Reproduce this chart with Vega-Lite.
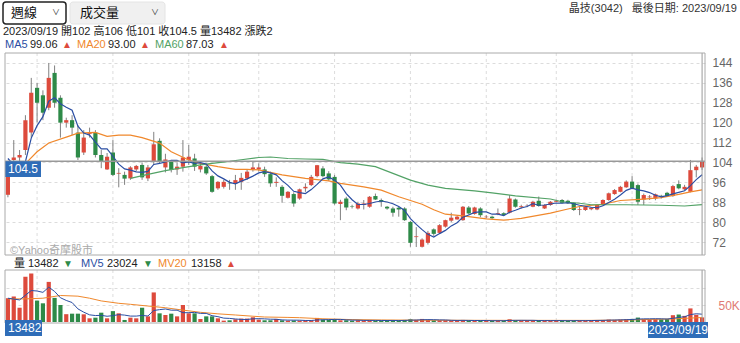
{
"$schema":"https://vega.github.io/schema/vega-lite/v6.json",
"width":700,"height":270,
"autosize":{"type":"none"},
"padding":{"left":5,"top":53,"right":35,"bottom":20},
"background":"white",
"config":{"view":{"stroke":null},"font":"Liberation Sans, Noto Sans CJK TC, sans-serif","axis":{"labelFont":"Liberation Sans, Noto Sans CJK TC, sans-serif"}},
"datasets":{
"one":[{}],
"q":[{"d":"2021-06-28"},{"d":"2021-09-27"},{"d":"2021-12-27"},{"d":"2022-03-28"},{"d":"2022-06-27"},{"d":"2022-09-26"},{"d":"2022-12-26"},{"d":"2023-03-27"},{"d":"2023-06-26"}],
"k":[
{"d":"2021-05-24","o":91,"h":104,"l":90,"c":103,"v":70,"m5":105.6,"mv5":70,"mv20":68},
{"d":"2021-05-31","o":105,"h":113,"l":104,"c":106,"v":75,"m5":103},
{"d":"2021-06-07","o":106,"h":109,"l":104,"c":107,"v":42,"m5":101.5,"mv5":65},
{"d":"2021-06-14","o":109,"h":123,"l":107,"c":121,"v":133,"m5":104.3,"m20":103.5,"mv20":68},
{"d":"2021-06-21","o":116,"h":138,"l":114,"c":132,"v":143,"m5":113.8,"mv5":92.6},
{"d":"2021-06-28","o":134,"h":136,"l":120,"c":128,"v":63,"m5":118.8,"m20":108.3,"mv5":91.2},
{"d":"2021-07-05","o":131,"h":133,"l":121,"c":124,"v":55,"m5":122.4,"mv5":87.2,"mv20":70},
{"d":"2021-07-12","o":126,"h":144,"l":125,"c":138,"v":118,"m5":128.6,"m20":111.8,"mv5":102.4},
{"d":"2021-07-19","o":140,"h":143,"l":126,"c":128,"v":71,"m5":130,"mv5":90},
{"d":"2021-07-26","o":130,"h":131,"l":114,"c":120,"v":50,"m5":127.6,"mv5":71.4,"mv20":78},
{"d":"2021-08-02","o":120,"h":122,"l":118,"c":121,"v":23,"m5":126.2,"m20":114.2,"mv5":63.4},
{"d":"2021-08-09","o":121,"h":123,"l":115,"c":118,"v":24.5,"m5":125,"mv5":57.3},
{"d":"2021-08-16","o":116,"h":119,"l":105,"c":106,"v":24.5,"m5":118.6,"m20":115.8,"mv5":38.6,"mv20":76},
{"d":"2021-08-23","o":108,"h":117,"l":107,"c":114,"v":22.6,"m5":115.8,"mv5":28.9},
{"d":"2021-08-30","o":115.5,"h":118,"l":114,"c":116,"v":10.8,"m5":115,"mv5":21.1,"mv20":70},
{"d":"2021-09-06","o":116,"h":117,"l":106,"c":107,"v":12.7,"m5":112.2,"m20":116.1,"mv5":19},
{"d":"2021-09-13","o":107,"h":109,"l":101.7,"c":104.3,"v":27.4,"m5":109.5,"mv5":19.6,"mv20":62},
{"d":"2021-09-20","o":101.2,"h":107.8,"l":101,"c":106.3,"v":10.8,"m5":109.5,"m20":114.5,"mv5":16.9},
{"d":"2021-09-27","o":108,"h":113,"l":98.5,"c":99,"v":32,"m5":106.5,"mv5":18.7},
{"d":"2021-10-04","o":99.5,"h":101.7,"l":94,"c":99.8,"v":25.5,"m5":103.3,"m20":115,"mv5":21.7,"mv20":55},
{"d":"2021-10-11","o":99,"h":100.3,"l":95,"c":97.5,"v":6,"m5":101.4,"mv5":20.3},
{"d":"2021-10-18","o":97.6,"h":102.5,"l":97,"c":102,"v":12.7,"m5":100.9,"m20":115,"m60":97.6,"mv5":17.4,"mv20":52},
{"d":"2021-10-25","o":101.2,"h":103,"l":100.5,"c":102.6,"v":10.8,"m5":100.2,"mv5":17.4},
{"d":"2021-11-01","o":103,"h":104,"l":97,"c":98,"v":42,"m5":100,"m20":114,"mv5":19.4},
{"d":"2021-11-08","o":97.6,"h":103,"l":96.5,"c":102,"v":16.6,"m5":100.4,"m60":99.2,"mv5":17.6,"mv20":47},
{"d":"2021-11-15","o":104.6,"h":116.3,"l":103,"c":111.3,"v":87,"m5":103.2,"mv5":33.8},
{"d":"2021-11-22","o":112.7,"h":113.7,"l":103.5,"c":104.3,"v":25.5,"m5":103.6,"m20":111.8,"mv5":36.4},
{"d":"2021-11-29","o":102,"h":107.5,"l":100,"c":105.2,"v":20.6,"m5":104.2,"m60":100.7,"mv5":38.3,"mv20":42},
{"d":"2021-12-06","o":104.3,"h":105,"l":100,"c":101,"v":24.5,"m5":104.8,"m20":108.3,"mv5":34.8},
{"d":"2021-12-13","o":101.2,"h":104,"l":99,"c":102.3,"v":16.6,"m5":104.8,"mv5":34.8},
{"d":"2021-12-20","o":102.3,"h":113,"l":100.3,"c":106,"v":50,"m5":103.8,"m60":101.9,"mv5":27.4,"mv20":35},
{"d":"2021-12-27","o":105,"h":111,"l":103,"c":106.3,"v":25.5,"m5":104.2,"m20":105,"mv5":27.4},
{"d":"2022-01-03","o":105.6,"h":107.5,"l":100.6,"c":102.3,"v":25.5,"m5":103.6,"mv5":28.4},
{"d":"2022-01-10","o":101.2,"h":103.5,"l":100,"c":102.6,"v":8.8,"m5":103.9,"m20":103.6,"m60":103,"mv5":25.3,"mv20":28.5},
{"d":"2022-01-17","o":102.3,"h":103,"l":99,"c":99.6,"v":16.6,"m5":103.4,"mv5":25.3},
{"d":"2022-01-24","o":98.5,"h":99,"l":91.8,"c":92.2,"v":16.6,"m5":100.6,"m60":103.6,"mv5":18.6},
{"d":"2022-02-07","o":93.6,"h":96.5,"l":93,"c":96.2,"v":10.8,"m5":98.6,"m20":102.3,"mv5":15.7,"mv20":24},
{"d":"2022-02-14","o":94.2,"h":97,"l":93.5,"c":96.2,"v":4,"m5":97.4,"mv5":11.4},
{"d":"2022-02-21","o":95.8,"h":97,"l":93,"c":95.6,"v":5,"m5":96,"m60":104.4,"mv5":10.6},
{"d":"2022-02-28","o":95.6,"h":99,"l":93,"c":96.9,"v":8,"m5":95.4,"m20":101.2,"mv5":8.9,"mv20":20.6},
{"d":"2022-03-07","o":96.2,"h":99.8,"l":93,"c":97.8,"v":10,"m5":96.5,"m60":105.1,"mv5":7.6},
{"d":"2022-03-14","o":97.6,"h":101,"l":97,"c":100.3,"v":10,"m5":97.4,"m20":101.2,"mv5":7.4},
{"d":"2022-03-21","o":101.2,"h":104.3,"l":100.3,"c":102,"v":14,"m5":98.5,"mv5":9.4,"mv20":17},
{"d":"2022-03-28","o":101.2,"h":103.6,"l":100.3,"c":102,"v":7,"m5":99.8,"m20":101,"m60":106,"mv5":9.8},
{"d":"2022-04-04","o":101.2,"h":102.3,"l":98.2,"c":99.3,"v":5,"m5":100.3,"mv5":9.2,"mv20":14.7},
{"d":"2022-04-11","o":99.3,"h":100.3,"l":94.2,"c":95.6,"v":5,"m5":99.8,"m60":106.2,"mv5":8.2},
{"d":"2022-04-18","o":95.8,"h":98,"l":94.2,"c":96.2,"v":9,"m5":99,"mv5":8},
{"d":"2022-04-25","o":94.2,"h":94.9,"l":87.8,"c":90.6,"v":5,"m5":96.7,"m20":99,"mv5":6.2},
{"d":"2022-05-02","o":89.8,"h":92.5,"l":89.5,"c":92.2,"v":4,"m5":94.8,"m60":105.6,"mv5":5.6,"mv20":13.5},
{"d":"2022-05-09","o":91.3,"h":92,"l":86.2,"c":87.5,"v":4.5,"m5":92.4,"mv5":5.5},
{"d":"2022-05-16","o":89.5,"h":93.5,"l":89,"c":93.2,"v":4,"m5":91.9,"mv5":5.3,"mv20":12.7},
{"d":"2022-05-23","o":93.6,"h":95.6,"l":92.2,"c":94.2,"v":5,"m5":91.5,"m20":97.6,"m60":105.4,"mv5":4.5},
{"d":"2022-05-30","o":94.9,"h":99,"l":94.5,"c":98.2,"v":5,"m5":93.1,"mv5":4.5},
{"d":"2022-06-06","o":98.5,"h":103,"l":98,"c":102.9,"v":12,"m5":95.2,"mv5":6.1},
{"d":"2022-06-13","o":101.6,"h":102.5,"l":98,"c":98.5,"v":7,"m5":97.4,"m60":105.2,"mv5":6.6,"mv20":9.5},
{"d":"2022-06-20","o":99.6,"h":100.5,"l":96.5,"c":97.2,"v":6,"m5":98.2,"m20":96.6,"mv5":7},
{"d":"2022-06-27","o":98.2,"h":99,"l":87,"c":87.5,"v":8,"m5":96.9,"mv5":7.6},
{"d":"2022-07-04","o":87.3,"h":89,"l":80.8,"c":88.2,"v":5,"m5":94.9,"m20":95.6,"m60":103.9,"mv5":7.6},
{"d":"2022-07-11","o":89.5,"h":90.2,"l":84.8,"c":85.9,"v":5,"m5":91.5,"mv5":6.2},
{"d":"2022-07-18","o":86.4,"h":87,"l":85.5,"c":86.2,"v":4,"m5":89,"mv5":5.6,"mv20":7},
{"d":"2022-07-25","o":85.5,"h":88.2,"l":85.1,"c":87.5,"v":5,"m5":87.1,"m60":103.3,"mv5":5.4},
{"d":"2022-08-01","o":86.9,"h":88.9,"l":85.1,"c":87.5,"v":4.5,"m5":87.1,"m20":94.2,"mv5":4.7},
{"d":"2022-08-08","o":86.2,"h":90.5,"l":85.8,"c":90.2,"v":5,"m5":87.5,"mv5":4.7},
{"d":"2022-08-15","o":90.5,"h":91.5,"l":88.9,"c":89.1,"v":4,"m5":88.1,"m60":102.3,"mv5":4.6},
{"d":"2022-08-22","o":88.9,"h":89.5,"l":86.2,"c":88.2,"v":4,"m5":88.5,"m20":92.9,"mv5":4.5,"mv20":6},
{"d":"2022-08-29","o":86.2,"h":86.5,"l":85,"c":85.5,"v":4.5,"m5":88.1,"mv5":4.4},
{"d":"2022-09-05","o":85.5,"h":86.2,"l":82.2,"c":83.8,"v":5,"m5":87.4,"m60":99.6,"mv5":4.5},
{"d":"2022-09-12","o":85.8,"h":86.2,"l":82.2,"c":85.1,"v":4,"m5":86.3,"m20":90.2,"mv5":4.3},
{"d":"2022-09-19","o":85.5,"h":86,"l":80.5,"c":80.8,"v":6,"m5":84.7,"mv5":4.7},
{"d":"2022-09-26","o":80.1,"h":80.5,"l":70.1,"c":71.7,"v":8,"m5":81.4,"m60":96.9,"mv5":5.4,"mv20":5.5},
{"d":"2022-10-03","o":74,"h":78,"l":70,"c":74.3,"v":6,"m5":79.1,"mv5":5.8},
{"d":"2022-10-10","o":70.1,"h":73.5,"l":69.8,"c":73,"v":9,"m5":77,"m20":87.2,"mv5":6.6},
{"d":"2022-10-17","o":71.7,"h":76.5,"l":71,"c":75.7,"v":6,"m5":75.1,"m60":94.9,"mv5":7},
{"d":"2022-10-24","o":77.1,"h":77.5,"l":74.5,"c":75.3,"v":5,"m5":74,"m20":85,"mv5":6.8},
{"d":"2022-10-31","o":75.7,"h":79.2,"l":75.3,"c":78.8,"v":5,"m5":75.4,"mv5":6.2},
{"d":"2022-11-07","o":78.2,"h":81,"l":77.8,"c":80.8,"v":5,"m5":76.7,"m20":83.2,"m60":93.6,"mv5":6},
{"d":"2022-11-14","o":80.6,"h":83.8,"l":80,"c":81.8,"v":4,"m5":78.5,"mv5":5},
{"d":"2022-11-21","o":81.1,"h":82.5,"l":81,"c":82.2,"v":4,"m5":79.8,"mv5":4.6},
{"d":"2022-11-28","o":80.8,"h":86.5,"l":80.5,"c":86.2,"v":6,"m5":82,"m20":82.5,"mv5":4.8},
{"d":"2022-12-05","o":85.9,"h":86.5,"l":83,"c":83.5,"v":4,"m5":82.9,"mv5":4.6,"mv20":5},
{"d":"2022-12-12","o":83.3,"h":86.2,"l":83,"c":85.9,"v":4,"m5":83.9,"m60":92.6,"mv5":4.4},
{"d":"2022-12-19","o":85.5,"h":86,"l":82,"c":82.8,"v":4,"m5":84.1,"mv5":4.4},
{"d":"2022-12-26","o":82,"h":82.8,"l":81.5,"c":82.2,"v":3.5,"m5":84.1,"m20":81.3,"mv5":4.3},
{"d":"2023-01-02","o":82.2,"h":82.6,"l":81.3,"c":81.6,"v":3.5,"m5":83.2,"m60":91.8,"mv5":3.8},
{"d":"2023-01-09","o":83.3,"h":85.5,"l":82.8,"c":83.6,"v":4,"m5":83.2,"mv5":3.8},
{"d":"2023-01-16","o":83.6,"h":84,"l":82.5,"c":82.9,"v":4,"m5":82.6,"m20":80.8,"mv5":3.8},
{"d":"2023-01-30","o":83.8,"h":90.9,"l":83.5,"c":89.5,"v":8,"m5":84,"mv5":4.6},
{"d":"2023-02-06","o":89.1,"h":89.5,"l":85.8,"c":86.2,"v":5,"m5":84.8,"m60":90.6,"mv5":4.9},
{"d":"2023-02-13","o":86,"h":87,"l":85.5,"c":86.4,"v":4,"m5":85.7,"m20":81.5,"mv5":5},
{"d":"2023-02-20","o":86.5,"h":87.2,"l":86,"c":86.6,"v":3.5,"m5":86.3,"mv5":4.9,"mv20":4.8},
{"d":"2023-02-27","o":86.2,"h":88.6,"l":86,"c":88.2,"v":4,"m5":87.4,"mv5":4.9},
{"d":"2023-03-06","o":88.6,"h":90.3,"l":86.2,"c":86.5,"v":5,"m5":86.8,"mv5":4.3},
{"d":"2023-03-13","o":85.5,"h":87.2,"l":85.3,"c":86.9,"v":4,"m5":86.9,"mv5":4.1},
{"d":"2023-03-20","o":86.9,"h":88.5,"l":86.6,"c":88.2,"v":4,"m5":87.3,"m20":83.6,"m60":89.3,"mv5":4.1},
{"d":"2023-03-27","o":88.2,"h":89,"l":88,"c":88.6,"v":3.5,"m5":87.7,"mv5":4.1},
{"d":"2023-04-03","o":88.9,"h":89.3,"l":87.5,"c":87.8,"v":4,"m5":87.6,"m60":88.2,"mv5":4.1},
{"d":"2023-04-10","o":88.6,"h":89,"l":87.3,"c":87.6,"v":3.5,"m5":87.8,"m20":85.3,"mv5":3.8},
{"d":"2023-04-17","o":87.8,"h":88,"l":84.5,"c":84.9,"v":5,"m5":87.4,"mv5":4},
{"d":"2023-04-24","o":85,"h":86.2,"l":82.8,"c":85.3,"v":4,"m5":86.8,"m20":86.3,"m60":87.6,"mv5":4},
{"d":"2023-05-01","o":84.9,"h":86.5,"l":84.5,"c":86.2,"v":4,"m5":86.4,"mv5":4},
{"d":"2023-05-08","o":85.2,"h":86,"l":84.8,"c":85.8,"v":5,"m5":86,"m60":87,"mv5":4.3,"mv20":4.8},
{"d":"2023-05-15","o":85.1,"h":87.2,"l":84.8,"c":86.9,"v":5,"m5":85.8,"mv5":4.6},
{"d":"2023-05-22","o":86.9,"h":89.2,"l":86.6,"c":88.9,"v":6,"m5":86.6,"m20":87.2,"mv5":4.8},
{"d":"2023-05-29","o":88.9,"h":91.9,"l":88.6,"c":91.6,"v":7,"m5":87.9,"mv5":5.4},
{"d":"2023-06-05","o":91.3,"h":93.3,"l":91,"c":92.9,"v":6,"m5":89.2,"mv5":5.8},
{"d":"2023-06-12","o":92.2,"h":94.6,"l":92,"c":94.2,"v":7,"m5":90.9,"m20":88.7,"mv5":6.2},
{"d":"2023-06-19","o":94,"h":96.8,"l":93.8,"c":96.3,"v":8,"m5":92.8,"m60":87,"mv5":6.8,"mv20":5.8},
{"d":"2023-06-26","o":96.3,"h":98.5,"l":93.2,"c":93.6,"v":9,"m5":93.7,"mv5":7.4},
{"d":"2023-07-03","o":94.9,"h":95.5,"l":86.9,"c":88.2,"v":13,"m5":93,"mv5":8.6},
{"d":"2023-07-10","o":89.1,"h":91.5,"l":86.9,"c":90.9,"v":9,"m5":92.6,"m20":89.3,"mv5":9.2},
{"d":"2023-07-17","o":90,"h":90.9,"l":88.9,"c":90.3,"v":8,"m5":91.9,"mv5":9.4,"mv20":7.5},
{"d":"2023-07-24","o":89.5,"h":91.5,"l":88.8,"c":91.2,"v":9,"m5":90.8,"mv5":9.6},
{"d":"2023-07-31","o":90.6,"h":91,"l":89.5,"c":90.4,"v":8,"m5":90.2,"m20":89.9,"m60":86.8,"mv5":9.4},
{"d":"2023-08-07","o":91.8,"h":92.2,"l":90.2,"c":90.5,"v":9,"m5":90.7,"mv5":8.6},
{"d":"2023-08-14","o":90.5,"h":95,"l":90.2,"c":94.5,"v":20,"m5":91.4,"mv5":10.8,"mv20":9},
{"d":"2023-08-21","o":95.3,"h":96.8,"l":93.2,"c":93.6,"v":22,"m5":92,"m20":91.2,"mv5":13.6},
{"d":"2023-08-28","o":93.2,"h":95,"l":92.8,"c":94.2,"v":18,"m5":92.6,"m60":86.5,"mv5":15.4},
{"d":"2023-09-04","o":92.2,"h":105,"l":92,"c":100.9,"v":40,"m5":94.7,"m20":92.2,"mv5":21.8,"mv20":11.5},
{"d":"2023-09-11","o":100.9,"h":103,"l":98,"c":102.3,"v":21,"m5":97.1,"mv5":24.2},
{"d":"2023-09-18","o":102,"h":106,"l":101,"c":104.5,"v":13.482,"m5":99.06,"m20":93,"m60":87.03,"mv5":23.024,"mv20":13.158}
]},
"data":{"name":"k"},
"resolve":{"scale":{"y":"independent"}},
"layer":[
 {"data":{"name":"q"},"mark":{"type":"rule","color":"#dcdcdc","strokeDash":[3,3]},
  "encoding":{"x":{"field":"d","type":"ordinal","axis":null},"y":{"datum":148,"type":"quantitative","scale":{"domain":[66.8,148],"range":[202,0],"zero":false,"nice":false},"axis":null},"y2":{"datum":66.8}}},
 {"mark":{"type":"rule","color":"#808080"},
  "encoding":{"x":{"field":"d","type":"ordinal","axis":null},
   "y":{"field":"h","type":"quantitative","scale":{"domain":[66.8,148],"range":[202,0],"zero":false,"nice":false},
     "axis":{"orient":"right","title":null,"values":[72,80,88,96,104,112,120,128,136,144],"grid":true,"gridDash":[3,3],"gridColor":"#dcdcdc","ticks":false,"domain":false,"labelPadding":7,"labelColor":"#666","labelFontSize":12}},
   "y2":{"field":"l"}}},
 {"mark":{"type":"bar","width":{"band":0.72}},
  "encoding":{"x":{"field":"d","type":"ordinal","axis":null},"y":{"field":"o","type":"quantitative","scale":{"domain":[66.8,148],"range":[202,0],"zero":false,"nice":false},"axis":null},"y2":{"field":"c"},
   "color":{"condition":{"test":"datum.c >= datum.o","value":"#dd4a3c"},"value":"#2e8a48"}}},
 {"mark":{"type":"line","color":"#f0882c","strokeWidth":1.2,"invalid":"filter"},
  "encoding":{"x":{"field":"d","type":"ordinal","axis":null},"y":{"field":"m20","type":"quantitative","scale":{"domain":[66.8,148],"range":[202,0],"zero":false,"nice":false},"axis":null}}},
 {"mark":{"type":"line","color":"#52a266","strokeWidth":1.2,"invalid":"filter"},
  "encoding":{"x":{"field":"d","type":"ordinal","axis":null},"y":{"field":"m60","type":"quantitative","scale":{"domain":[66.8,148],"range":[202,0],"zero":false,"nice":false},"axis":null}}},
 {"mark":{"type":"line","color":"#2b4ea3","strokeWidth":1.2,"invalid":"filter"},
  "encoding":{"x":{"field":"d","type":"ordinal","axis":null},"y":{"field":"m5","type":"quantitative","scale":{"domain":[66.8,148],"range":[202,0],"zero":false,"nice":false},"axis":null}}},
 {"data":{"name":"one"},"mark":{"type":"rule","color":"#999","strokeWidth":1.5},
  "encoding":{"y":{"datum":104.5,"type":"quantitative","scale":{"domain":[66.8,148],"range":[202,0],"zero":false,"nice":false},"axis":null}}},
 {"data":{"name":"one"},"mark":{"type":"rule","color":"#999","strokeWidth":1},
  "encoding":{"x":{"datum":"2023-09-18","type":"ordinal","axis":null},"y":{"datum":148,"type":"quantitative","scale":{"domain":[66.8,148],"range":[202,0],"zero":false,"nice":false},"axis":null},"y2":{"datum":66.8}}},
 {"data":{"name":"one"},"mark":{"type":"rect","x":0,"x2":36,"color":"#2f6db8"},
  "encoding":{"y":{"datum":104.5,"type":"quantitative","scale":{"domain":[66.8,148],"range":[202,0],"zero":false,"nice":false},"axis":null},"y2":{"datum":98.2}}},
 {"data":{"name":"one"},"mark":{"type":"text","x":3,"align":"left","baseline":"middle","color":"white","fontSize":12},
  "encoding":{"y":{"datum":101.35,"type":"quantitative","scale":{"domain":[66.8,148],"range":[202,0],"zero":false,"nice":false},"axis":null},"text":{"value":"104.5"}}},
 {"data":{"name":"one"},"mark":{"type":"text","x":5,"y":198,"text":"©Yahoo奇摩股市","align":"left","baseline":"middle","color":"#aaa","fontSize":11}},
 {"data":{"name":"one"},"mark":{"type":"rect","x":0,"x2":700,"y":0,"y2":202,"fill":"transparent","stroke":"#aaa","strokeWidth":1}},
 {"data":{"name":"q"},"mark":{"type":"rule","color":"#dcdcdc","strokeDash":[3,3]},
  "encoding":{"x":{"field":"d","type":"ordinal","axis":null},"y":{"datum":153,"type":"quantitative","scale":{"domain":[0,153],"range":[269,217],"nice":false,"zero":true},"axis":null},"y2":{"datum":0}}},
 {"mark":{"type":"bar","width":{"band":0.72}},
  "encoding":{"x":{"field":"d","type":"ordinal","scale":{"type":"band","paddingInner":0,"paddingOuter":0},
     "axis":{"title":null,"values":["2021-06-28","2021-09-27","2021-12-27","2022-03-28","2022-06-27","2022-09-26","2022-12-26","2023-03-27","2023-06-26"],
       "labelExpr":"datum.value=='2021-06-28'?'2021/07':datum.value=='2021-09-27'?'10':datum.value=='2021-12-27'?'2022/01':datum.value=='2022-03-28'?'04':datum.value=='2022-06-27'?'07':datum.value=='2022-09-26'?'10':datum.value=='2022-12-26'?'2023/01':datum.value=='2023-03-27'?'04':'07'",
       "labelAlign":"left","labelAngle":0,"labelBaseline":"top","labelPadding":8,"labelOffset":1,"ticks":false,"domain":false,"grid":false,"bandPosition":0.5,"labelColor":"#666","labelFontSize":12}},
   "y":{"field":"v","type":"quantitative","scale":{"domain":[0,153],"range":[269,217],"nice":false,"zero":true},
     "axis":{"orient":"right","title":null,"values":[50,100],"grid":true,"gridDash":[3,3],"gridColor":"#dcdcdc","ticks":false,"domain":false,"labelExpr":"datum.value==50?'50K':''","labelColor":"#e07a74","labelPadding":13,"labelFontSize":12}},
   "color":{"condition":{"test":"datum.c >= datum.o","value":"#dd4a3c"},"value":"#2e8a48"}}},
 {"mark":{"type":"line","color":"#f0882c","strokeWidth":1,"invalid":"filter"},
  "encoding":{"x":{"field":"d","type":"ordinal","axis":null},"y":{"field":"mv20","type":"quantitative","scale":{"domain":[0,153],"range":[269,217],"nice":false,"zero":true},"axis":null}}},
 {"mark":{"type":"line","color":"#2b4ea3","strokeWidth":1,"invalid":"filter"},
  "encoding":{"x":{"field":"d","type":"ordinal","axis":null},"y":{"field":"mv5","type":"quantitative","scale":{"domain":[0,153],"range":[269,217],"nice":false,"zero":true},"axis":null}}},
 {"data":{"name":"one"},"mark":{"type":"rule","color":"#999","strokeWidth":1},
  "encoding":{"x":{"datum":"2023-09-18","type":"ordinal","axis":null},"y":{"datum":153,"type":"quantitative","scale":{"domain":[0,153],"range":[269,217],"nice":false,"zero":true},"axis":null},"y2":{"datum":0}}},
 {"data":{"name":"one"},"mark":{"type":"rect","x":0,"x2":700,"y":217,"y2":270,"fill":"transparent","stroke":"#aaa","strokeWidth":1}},
 {"data":{"name":"one"},"mark":{"type":"rect","x":0,"x2":37,"y":267,"y2":283,"color":"#2f6db8"}},
 {"data":{"name":"one"},"mark":{"type":"text","x":3,"y":275,"text":"13482","align":"left","baseline":"middle","color":"white","fontSize":12}},
 {"data":{"name":"one"},"mark":{"type":"rect","x":643,"x2":703,"y":269,"y2":285,"color":"#2f6db8"}},
 {"data":{"name":"one"},"mark":{"type":"text","x":673,"y":277,"text":"2023/09/19","align":"center","baseline":"middle","color":"white","fontSize":12}},
 {"data":{"name":"one"},"mark":{"type":"rect","x":-2,"x2":61,"y":-51,"y2":-29,"fill":"white","stroke":"#222","strokeWidth":1.5,"cornerRadius":3}},
 {"data":{"name":"one"},"mark":{"type":"text","x":6,"y":-40,"text":"週線","align":"left","baseline":"middle","color":"#111","fontSize":13}},
 {"data":{"name":"one"},"mark":{"type":"text","x":51,"y":-40,"text":"∨","align":"center","baseline":"middle","color":"#333","fontSize":8}},
 {"data":{"name":"one"},"mark":{"type":"rect","x":65,"x2":160,"y":-51,"y2":-29,"fill":"#f0f0f0","stroke":"#e4e4e4","strokeWidth":1,"cornerRadius":3}},
 {"data":{"name":"one"},"mark":{"type":"text","x":75,"y":-40,"text":"成交量","align":"left","baseline":"middle","color":"#111","fontSize":13}},
 {"data":{"name":"one"},"mark":{"type":"text","x":150,"y":-40,"text":"∨","align":"center","baseline":"middle","color":"#333","fontSize":8}},
 {"data":{"name":"one"},"mark":{"type":"text","x":732,"y":-44,"text":"晶技(3042)\u00a0\u00a0\u00a0最後日期: 2023/09/19","align":"right","baseline":"middle","color":"#333","fontSize":11}},
 {"data":{"name":"one"},"mark":{"type":"text","x":-2,"y":-21,"text":"2023/09/19 開102 高106 低101 收104.5 量13482 漲跌2","align":"left","baseline":"middle","color":"#222","fontSize":11}},
 {"data":{"name":"one"},"mark":{"type":"text","x":0,"y":-8,"text":"MA5","align":"left","baseline":"middle","color":"#2b4ea3","fontSize":11}},
 {"data":{"name":"one"},"mark":{"type":"text","x":25,"y":-8,"text":"99.06","align":"left","baseline":"middle","color":"#222","fontSize":11}},
 {"data":{"name":"one"},"mark":{"type":"text","x":57,"y":-8,"text":"▲","align":"left","baseline":"middle","color":"#dd4a3c","fontSize":10}},
 {"data":{"name":"one"},"mark":{"type":"text","x":72,"y":-8,"text":"MA20","align":"left","baseline":"middle","color":"#f0882c","fontSize":11}},
 {"data":{"name":"one"},"mark":{"type":"text","x":103,"y":-8,"text":"93.00","align":"left","baseline":"middle","color":"#222","fontSize":11}},
 {"data":{"name":"one"},"mark":{"type":"text","x":135,"y":-8,"text":"▲","align":"left","baseline":"middle","color":"#dd4a3c","fontSize":10}},
 {"data":{"name":"one"},"mark":{"type":"text","x":150,"y":-8,"text":"MA60","align":"left","baseline":"middle","color":"#52a266","fontSize":11}},
 {"data":{"name":"one"},"mark":{"type":"text","x":181,"y":-8,"text":"87.03","align":"left","baseline":"middle","color":"#222","fontSize":11}},
 {"data":{"name":"one"},"mark":{"type":"text","x":214,"y":-8,"text":"▲","align":"left","baseline":"middle","color":"#dd4a3c","fontSize":10}},
 {"data":{"name":"one"},"mark":{"type":"text","x":9,"y":211,"text":"量","align":"left","baseline":"middle","color":"#222","fontSize":11}},
 {"data":{"name":"one"},"mark":{"type":"text","x":23,"y":211,"text":"13482","align":"left","baseline":"middle","color":"#222","fontSize":11}},
 {"data":{"name":"one"},"mark":{"type":"text","x":58,"y":211,"text":"▼","align":"left","baseline":"middle","color":"#2e8a48","fontSize":10}},
 {"data":{"name":"one"},"mark":{"type":"text","x":76,"y":211,"text":"MV5","align":"left","baseline":"middle","color":"#2b4ea3","fontSize":11}},
 {"data":{"name":"one"},"mark":{"type":"text","x":102,"y":211,"text":"23024","align":"left","baseline":"middle","color":"#222","fontSize":11}},
 {"data":{"name":"one"},"mark":{"type":"text","x":138,"y":211,"text":"▼","align":"left","baseline":"middle","color":"#2e8a48","fontSize":10}},
 {"data":{"name":"one"},"mark":{"type":"text","x":153,"y":211,"text":"MV20","align":"left","baseline":"middle","color":"#f0882c","fontSize":11}},
 {"data":{"name":"one"},"mark":{"type":"text","x":186,"y":211,"text":"13158","align":"left","baseline":"middle","color":"#222","fontSize":11}},
 {"data":{"name":"one"},"mark":{"type":"text","x":221,"y":211,"text":"▲","align":"left","baseline":"middle","color":"#dd4a3c","fontSize":10}}
]
}
